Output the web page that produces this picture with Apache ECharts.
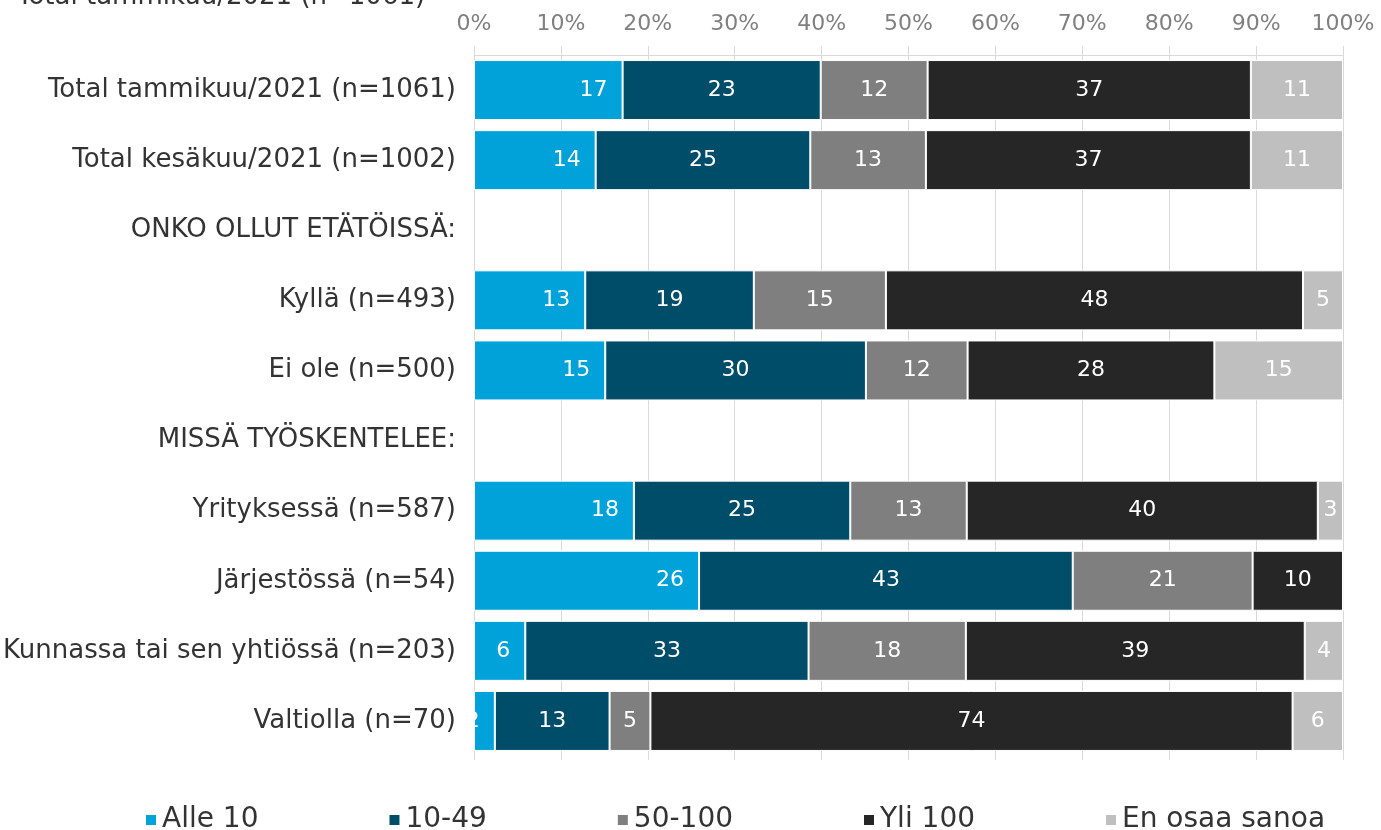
<!DOCTYPE html>
<html>
<head>
<meta charset="utf-8">
<script src="https://cdn.jsdelivr.net/npm/echarts@6/dist/echarts.min.js"></script>
<style>
  html, body { margin: 0; padding: 0; background: #fff; }
  #chart { width: 1381px; height: 830px; }
</style>
</head>
<body>
<div id="chart"></div>
<script>
// rows of the chart, top to bottom; the two header rows carry no data
var categories = [
    'Total tammikuu/2021 (n=1061)',
    'Total kesäkuu/2021 (n=1002)',
    'ONKO OLLUT ETÄTÖISSÄ:',
    'Kyllä (n=493)',
    'Ei ole (n=500)',
    'MISSÄ TYÖSKENTELEE:',
    'Yrityksessä (n=587)',
    'Järjestössä (n=54)',
    'Kunnassa tai sen yhtiössä (n=203)',
    'Valtiolla (n=70)'
];

var series_names = ['Alle 10', '10-49', '50-100', 'Yli 100', 'En osaa sanoa'];
var series_colors = ['#00a2d9', '#004d69', '#7f7f7f', '#262626', '#bfbfbf'];

// percentages (labels show them rounded)
var alle10   = [17.1, 14.0, '-', 12.8, 15.1, '-', 18.4, 25.9, 5.9, 2.4];
var v10_49   = [22.8, 24.7, '-', 19.4, 30.0, '-', 24.9, 43.0, 32.6, 13.2];
var v50_100  = [12.3, 13.3, '-', 15.2, 11.7, '-', 13.4, 20.7, 18.1, 4.7];
var yli100   = [37.2, 37.4, '-', 48.0, 28.4, '-', 40.4, 10.4, 39.0, 73.9];
var en_osaa  = [10.6, 10.6, '-', 4.6, 14.8, '-', 2.9, 0, 4.4, 5.8];

var x_ticks = [0, 10, 20, 30, 40, 50, 60, 70, 80, 90, 100];

var font = 'DejaVu Sans, Verdana, sans-serif';

function make_series(i, data)
{
    var label = {
        show: true,
        color: '#ffffff',
        fontFamily: font,
        fontSize: 22,
        formatter: function (p) {
            return (p.value > 0) ? Math.round(p.value) : '';
        }
    };
    // the first segment's labels sit towards its right end
    if (i == 0) {
        label.position = 'insideRight';
        label.distance = 15;
    } else {
        label.position = 'inside';
    }

    return {
        name: series_names[i],
        type: 'bar',
        stack: 'total',
        barWidth: 60,
        xAxisIndex: 0,
        data: data,
        itemStyle: {
            color: series_colors[i],
            borderColor: '#ffffff',
            borderWidth: 1
        },
        label: label,
        emphasis: { disabled: true }
    };
}

var chart = echarts.init(document.getElementById('chart'));

chart.setOption({
    animation: false,
    textStyle: { fontFamily: font },
    title: {
        text: categories[0],
        left: 17,
        top: -16,
        padding: 0,
        textStyle: { fontFamily: font, fontSize: 26, fontWeight: 'normal', color: '#333333' }
    },
    grid: { left: 474, right: 38, top: 55, height: 701 },
    legend: {
        left: 144,
        top: 806,
        padding: 0,
        itemWidth: 12,
        itemHeight: 12,
        itemGap: 129,
        icon: 'rect',
        textStyle: { fontFamily: font, fontSize: 28, color: '#333333' },
        data: series_names
    },
    xAxis: [{
        type: 'value',
        position: 'top',
        min: x_ticks[0],
        max: x_ticks[x_ticks.length - 1],
        interval: 10,
        axisLine: { show: true, lineStyle: { color: '#d9d9d9', width: 1 } },
        axisTick: { show: true, length: 9, lineStyle: { color: '#d9d9d9' } },
        axisLabel: {
            formatter: '{value}%',
            color: '#808080',
            fontFamily: font,
            fontSize: 22,
            margin: 20
        },
        splitLine: { show: true, lineStyle: { color: '#d9d9d9', width: 1 } }
    }, {
        type: 'value',
        position: 'bottom',
        min: x_ticks[0],
        max: x_ticks[x_ticks.length - 1],
        interval: 10,
        axisLine: { show: false },
        axisTick: { show: true, length: 4, lineStyle: { color: '#d9d9d9' } },
        axisLabel: { show: false },
        splitLine: { show: false }
    }],
    yAxis: {
        type: 'category',
        inverse: true,
        data: categories,
        axisLine: { show: false },
        axisTick: { show: false },
        axisLabel: {
            color: '#333333',
            fontFamily: font,
            fontSize: 26,
            margin: 18
        }
    },
    series: [
        make_series(0, alle10),
        make_series(1, v10_49),
        make_series(2, v50_100),
        make_series(3, yli100),
        make_series(4, en_osaa)
    ]
});
</script>
</body>
</html>
